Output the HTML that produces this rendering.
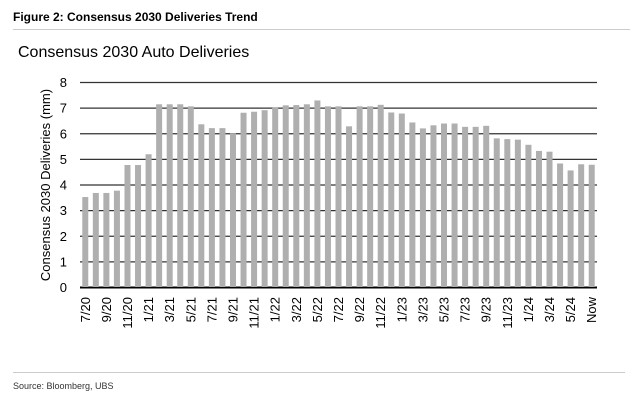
<!DOCTYPE html>
<html><head><meta charset="utf-8"><style>
body{margin:0;background:#fff;width:634px;height:406px;overflow:hidden;font-family:"Liberation Sans",sans-serif}
</style></head><body>
<svg width="634" height="406" xmlns="http://www.w3.org/2000/svg">
<text x="13" y="21" font-size="12" font-weight="bold" fill="#000">Figure 2: Consensus 2030 Deliveries Trend</text>
<line x1="13" y1="29.5" x2="630" y2="29.5" stroke="#ccc"/>
<text x="18" y="57" font-size="16" fill="#000">Consensus 2030 Auto Deliveries</text>
<g id="grid"></g><g id="bars"></g><g id="yticks"></g><g id="xticks"></g>
<text transform="translate(50,185) rotate(-90)" text-anchor="middle" font-size="13" fill="#000">Consensus 2030 Deliveries (mm)</text>
<line x1="13" y1="372.5" x2="625" y2="372.5" stroke="#ccc"/>
<text x="13" y="389" font-size="9" fill="#333">Source: Bloomberg, UBS</text>
</svg>
<script>
const values=[3.51,3.67,3.67,3.76,4.76,4.76,5.18,7.13,7.13,7.13,7.05,6.35,6.2,6.2,6.0,6.8,6.84,6.9,7.02,7.09,7.1,7.13,7.28,7.05,7.05,6.27,7.05,7.05,7.11,6.81,6.77,6.42,6.19,6.31,6.38,6.38,6.25,6.25,6.29,5.8,5.77,5.75,5.55,5.31,5.28,4.82,4.55,4.79,4.77];
const xLabels=["7/20","9/20","11/20","1/21","3/21","5/21","7/21","9/21","11/21","1/22","3/22","5/22","7/22","9/22","11/22","1/23","3/23","5/23","7/23","9/23","11/23","1/24","3/24","5/24","Now"];
const yTicks=[0,1,2,3,4,5,6,7,8];
const NS="http://www.w3.org/2000/svg";
const X0=80,X1=597,Y0=287,Y8=82;
const y=v=>Y0-(v/8)*(Y0-Y8);
const step=(X1-X0)/values.length;
const x=i=>X0+step*(i+0.5);
function mk(t,a,p){const e=document.createElementNS(NS,t);for(const k in a)e.setAttribute(k,a[k]);p.appendChild(e);return e;}
const grid=document.getElementById('grid'),bars=document.getElementById('bars'),yt=document.getElementById('yticks'),xt=document.getElementById('xticks');
yTicks.forEach(v=>{
 const l=mk('line',{x1:X0,x2:X1,y1:y(v)+0.5,y2:y(v)+0.5,stroke:v===0?'#000':'#333','stroke-width':v===0?2:1.3},grid);
 
 
 const t=mk('text',{x:67,y:y(v)+5,'text-anchor':'end','font-size':13,fill:'#000'},yt);
 t.textContent=v;
 
 
});
values.forEach((v,i)=>{
 const r=mk('rect',{x:x(i)-3,y:y(v),width:6,height:Y0-y(v),fill:'#afafaf'},bars);
 
 
});
xLabels.forEach((s,j)=>{
 const cx=x(j*2);
 const t=mk('text',{transform:`translate(${cx+4.5},297) rotate(-90)`,'text-anchor':'end','font-size':13,fill:'#000'},xt);
 t.textContent=s;
 
 
});
</script>
</body></html>
